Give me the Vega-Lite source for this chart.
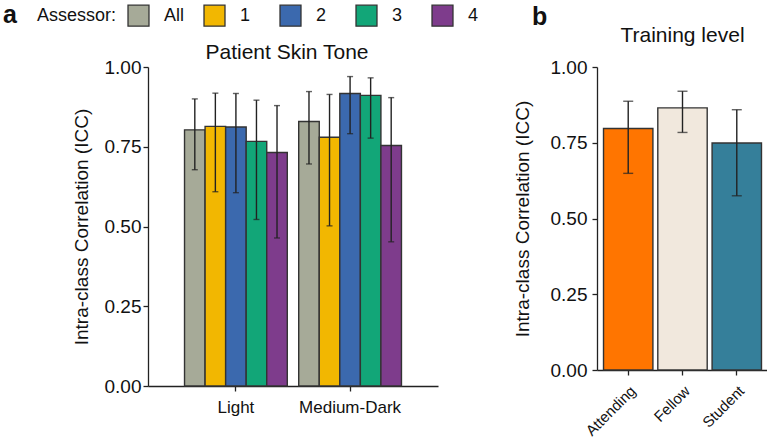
{
  "$schema": "https://vega.github.io/schema/vega-lite/v6.json",
  "background": "white",
  "padding": {"left": 3, "top": 3, "right": 4, "bottom": 0},
  "config": {
    "font": "Liberation Sans",
    "view": {"stroke": null},
    "axis": {"domainColor": "#222", "tickColor": "#222", "labelColor": "#111", "titleColor": "#111", "labelFontSize": 19, "titleFontSize": 19, "titleFontWeight": "normal", "grid": false, "tickSize": 5, "domainWidth": 1.3, "tickWidth": 1.3, "labelFont": "Liberation Sans", "titleFont": "Liberation Sans"},
    "title": {"font": "Liberation Sans", "fontWeight": "normal", "fontSize": 21, "color": "#111"},
    "legend": {"labelFont": "Liberation Sans", "titleFont": "Liberation Sans"}
  },
  "resolve": {"scale": {"color": "independent", "x": "independent", "y": "independent"}, "legend": {"color": "independent"}},
  "spacing": 34,
  "hconcat": [
    {
      "title": {"text": "a", "anchor": "start", "fontSize": 25, "fontWeight": "bold", "frame": "bounds", "offset": -24, "dx": -34},
      "vconcat": [
        {
          "width": 290,
          "height": 319,
          "title": {"text": "Patient Skin Tone", "offset": -5, "dx": -6},
          "data": {"values": [
            {"tone": "Light", "assessor": "All", "icc": 0.803, "lo": 0.678, "hi": 0.900},
            {"tone": "Light", "assessor": "1", "icc": 0.814, "lo": 0.609, "hi": 0.918},
            {"tone": "Light", "assessor": "2", "icc": 0.812, "lo": 0.606, "hi": 0.917},
            {"tone": "Light", "assessor": "3", "icc": 0.767, "lo": 0.522, "hi": 0.896},
            {"tone": "Light", "assessor": "4", "icc": 0.732, "lo": 0.464, "hi": 0.879},
            {"tone": "Medium-Dark", "assessor": "All", "icc": 0.829, "lo": 0.696, "hi": 0.923},
            {"tone": "Medium-Dark", "assessor": "1", "icc": 0.780, "lo": 0.502, "hi": 0.914},
            {"tone": "Medium-Dark", "assessor": "2", "icc": 0.917, "lo": 0.791, "hi": 0.970},
            {"tone": "Medium-Dark", "assessor": "3", "icc": 0.911, "lo": 0.777, "hi": 0.966},
            {"tone": "Medium-Dark", "assessor": "4", "icc": 0.754, "lo": 0.452, "hi": 0.904}
          ]},
          "encoding": {
            "x": {"field": "tone", "type": "nominal", "sort": ["Light", "Medium-Dark"], "axis": {"title": null, "labelAngle": 0, "labelPadding": 8, "labelFontSize": 17}, "scale": {"paddingInner": 0.1, "paddingOuter": 0.32}},
            "xOffset": {"field": "assessor", "type": "nominal", "sort": ["All", "1", "2", "3", "4"], "scale": {"paddingInner": 0, "paddingOuter": 0}}
          },
          "layer": [
            {
              "mark": {"type": "bar", "stroke": "#333", "strokeWidth": 1.4},
              "encoding": {
                "y": {"field": "icc", "type": "quantitative", "scale": {"domain": [0, 1], "nice": false}, "axis": {"title": "Intra-class Correlation (ICC)", "values": [0, 0.25, 0.5, 0.75, 1], "format": ".2f", "titlePadding": 13}},
                "color": {"field": "assessor", "type": "nominal", "sort": ["All", "1", "2", "3", "4"], "scale": {"domain": ["All", "1", "2", "3", "4"], "range": ["#A6AA98", "#F2B701", "#3B69AE", "#12A678", "#7E3C8C"]},
                  "legend": {"orient": "none", "legendX": -111, "legendY": -63, "title": "Assessor:", "titleOrient": "left", "titleFontSize": 18, "titleFontWeight": "normal", "titleColor": "#111", "labelFontSize": 18, "labelColor": "#111", "symbolType": "square", "symbolSize": 440, "symbolStrokeColor": "#333", "symbolStrokeWidth": 1.3, "direction": "horizontal", "columns": 5, "gridAlign": "all", "columnPadding": 16, "labelOffset": 14, "titlePadding": 10}}
              }
            },
            {"mark": {"type": "rule", "color": "#222", "strokeWidth": 1.4}, "encoding": {"y": {"field": "lo", "type": "quantitative"}, "y2": {"field": "hi"}}},
            {"mark": {"type": "tick", "color": "#222", "thickness": 1.4, "size": 6}, "encoding": {"y": {"field": "lo", "type": "quantitative"}}},
            {"mark": {"type": "tick", "color": "#222", "thickness": 1.4, "size": 6}, "encoding": {"y": {"field": "hi", "type": "quantitative"}}}
          ]
        }
      ]
    },
    {
      "title": {"text": "b", "anchor": "start", "fontSize": 25, "fontWeight": "bold", "frame": "bounds", "offset": -5, "dx": 19},
      "vconcat": [
        {
          "width": 171,
          "height": 303,
          "title": {"text": "Training level", "offset": 12},
          "data": {"values": [
            {"level": "Attending", "icc": 0.797, "lo": 0.649, "hi": 0.887},
            {"level": "Fellow", "icc": 0.865, "lo": 0.784, "hi": 0.920},
            {"level": "Student", "icc": 0.749, "lo": 0.575, "hi": 0.859}
          ]},
          "encoding": {
            "x": {"field": "level", "type": "nominal", "sort": ["Attending", "Fellow", "Student"], "axis": {"title": null, "labelAngle": -45, "labelFontSize": 15, "labelPadding": 8}, "scale": {"paddingInner": 0.09, "paddingOuter": 0.12}}
          },
          "layer": [
            {
              "mark": {"type": "bar", "stroke": "#333", "strokeWidth": 1.4},
              "encoding": {
                "y": {"field": "icc", "type": "quantitative", "scale": {"domain": [0, 1], "nice": false}, "axis": {"title": "Intra-class Correlation (ICC)", "values": [0, 0.25, 0.5, 0.75, 1], "format": ".2f", "titlePadding": 18, "labelPadding": 5}},
                "color": {"field": "level", "type": "nominal", "scale": {"domain": ["Attending", "Fellow", "Student"], "range": ["#FF7500", "#F1E8DD", "#357F9A"]}, "legend": null}
              }
            },
            {"mark": {"type": "rule", "color": "#222", "strokeWidth": 1.4}, "encoding": {"y": {"field": "lo", "type": "quantitative"}, "y2": {"field": "hi"}}},
            {"mark": {"type": "tick", "color": "#222", "thickness": 1.4, "size": 10}, "encoding": {"y": {"field": "lo", "type": "quantitative"}}},
            {"mark": {"type": "tick", "color": "#222", "thickness": 1.4, "size": 10}, "encoding": {"y": {"field": "hi", "type": "quantitative"}}}
          ]
        }
      ]
    }
  ]
}
